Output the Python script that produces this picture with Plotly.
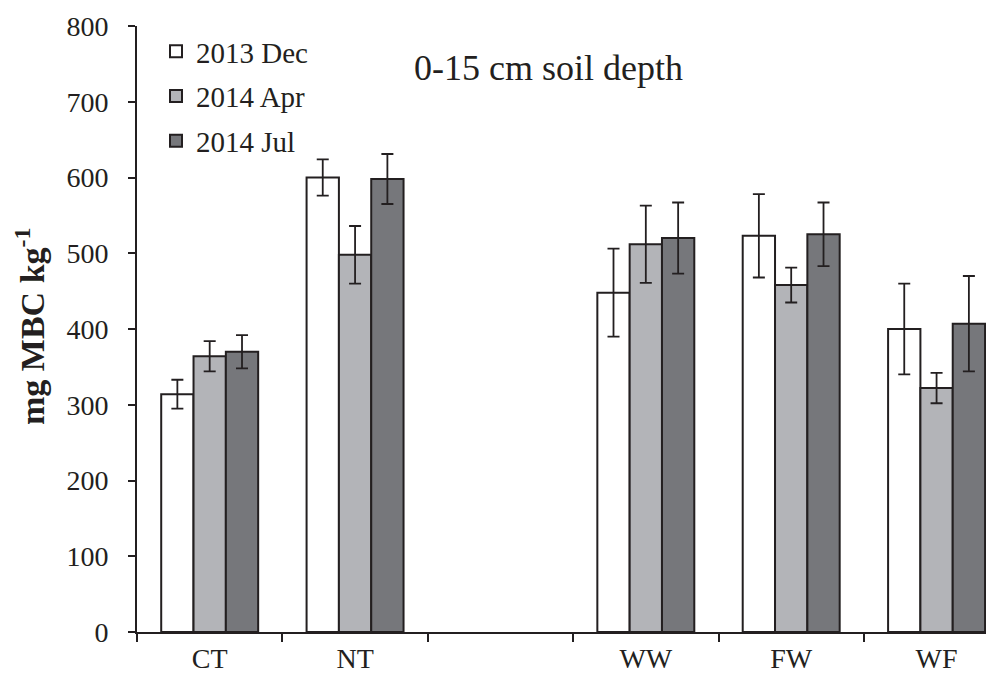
import plotly.graph_objects as go

categories = ["CT", "NT", " ", "WW", "FW", "WF"]
series_names = ["2013 Dec", "2014 Apr", "2014 Jul"]
dec_vals = [314, 600, None, 448, 523, 400]
dec_err = [19, 24, None, 58, 55, 60]
apr_vals = [364, 498, None, 512, 458, 322]
apr_err = [20, 38, None, 51, 23, 20]
jul_vals = [370, 598, None, 520, 525, 407]
jul_err = [22, 33, None, 47, 42, 63]
colors = ["#ffffff", "#b3b4b8", "#76777b"]

INK = "#231f20"
FONT = "Liberation Serif, Times New Roman, serif"

fig = go.Figure()
for name, vals, errs, col in zip(series_names, [dec_vals, apr_vals, jul_vals],
                                 [dec_err, apr_err, jul_err], colors):
    fig.add_trace(go.Bar(
        x=categories, y=vals, name=name, legendgroup=name,
        marker=dict(color=col, line=dict(color=INK, width=2)),
        error_y=dict(type="data", array=errs, visible=True, color=INK,
                     thickness=1.8, width=6),
    ))

W, H = 993, 677
ml, mr, mt, mb = 137, 7, 26, 45
pw = W - ml - mr
ph = H - mt - mb

fig.update_layout(
    width=W, height=H,
    margin=dict(l=ml, r=mr, t=mt, b=mb, autoexpand=False),
    paper_bgcolor="white", plot_bgcolor="white",
    barmode="group", bargap=0.333, bargroupgap=0,
    font=dict(family=FONT, color=INK, size=28),
    showlegend=True,
    legend=dict(x=(156 - ml) / pw, y=1.0, xanchor="left", yanchor="top",
                bgcolor="rgba(0,0,0,0)", font=dict(size=29, family=FONT, color=INK),
                traceorder="grouped", tracegroupgap=4),
    xaxis=dict(type="category", range=[-0.5, 5.34], tickson="boundaries",
               ticks="outside", ticklen=8, tickwidth=2, tickcolor=INK,
               showline=True, linecolor=INK, linewidth=2, showgrid=False,
               ticklabelstandoff=0, automargin=False,
               tickfont=dict(size=28, family=FONT, color=INK)),
    yaxis=dict(range=[0, 800], tickvals=[0, 100, 200, 300, 400, 500, 600, 700, 800],
               ticks="outside", ticklen=7, tickwidth=2, tickcolor=INK,
               showline=True, linecolor=INK, linewidth=2, showgrid=False,
               zeroline=False, ticklabelstandoff=14, automargin=False,
               tickfont=dict(size=28, family=FONT, color=INK)),
    annotations=[
        dict(text="0-15 cm soil depth", xref="paper", yref="paper",
             x=(548 - ml) / pw, y=(632 - 68) / ph, xanchor="center", yanchor="middle",
             showarrow=False, font=dict(size=36, family=FONT, color=INK)),
        dict(text="<b>mg MBC kg<sup>-1</sup></b>", xref="paper", yref="paper",
             x=(30 - ml) / pw, y=(632 - 327) / ph, xanchor="center", yanchor="middle",
             textangle=-90, showarrow=False, font=dict(size=34, family=FONT, color=INK)),
    ],
)

fig.write_html("out.html")
